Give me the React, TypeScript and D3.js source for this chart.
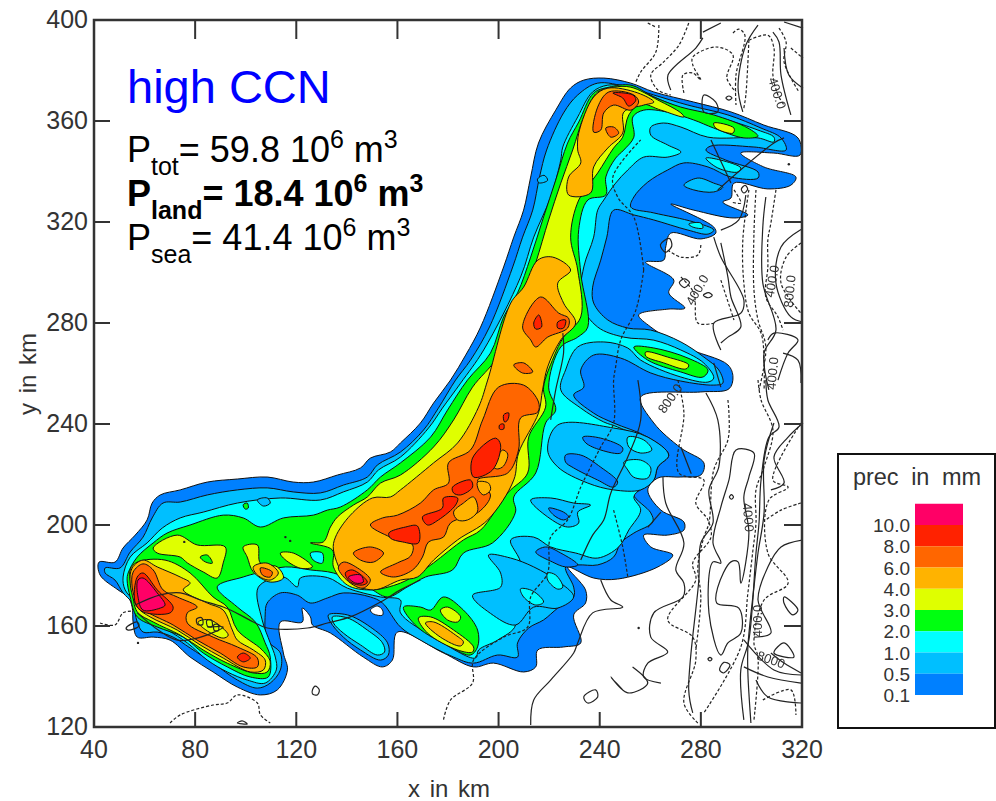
import * as d3 from 'd3';
import React from 'react';

const xTicks = [40, 80, 120, 160, 200, 240, 280, 320];
const yTicks = [120, 160, 200, 240, 280, 320, 360, 400];
const legendLabels = ['10.0', '8.0', '6.0', '4.0', '3.0', '2.0', '1.0', '0.5', '0.1'];
const legendColors = ['#ff0066', '#ff2200', '#ff6600', '#ffb300', '#dfff00', '#00ff10', '#00ffff', '#00bfff', '#0080ff'];
const [cMag, cRed, cDark, cOrange, cYellow, cGreen, cCyan, cLight, cBlue] = legendColors;

const band01 = [[42,185.3,48.3,185.3,51.5,190.9,56.3,196,61,202,63,208.7,66.2,211.9,74.1,213.9,84.8,217,96.7,218.2,108.5,219,118.8,217,126.7,217,136.3,219.8,145.4,222.6,149.3,226.5,157.2,228.9,161.2,232.5,169.1,240.4,174.3,248.3,181,257.4,187,267.3,192.9,278.4,202,302.2,206,314,209.9,324.7,212.7,337.8,215.8,351.3,222.6,364.3,228.5,373.1,233.7,376.2,241.6,377,252.3,375,261.4,371.5,277.2,367.5,291.9,363.6,304.9,358.4,318.4,353.3,319.2,346.5,308.9,347.3,295.8,347.3,304.9,341.8,317.6,337.8,315.6,334.6,306.5,333.1,293.1,335.4,291.9,329.5,288.7,327.9,298.6,322.8,293.1,321.6,277.2,324.7,268.1,327.1,285.1,318,285.9,315.6,280,313.3,268.1,315.6,266.1,310.1,265.3,304.9,258.2,304.1,269.3,297,267.3,291.9,273.7,285.9,267,285.5,255.4,283.2,260.2,278.4,273.3,270.5,290.7,263.4,292.7,258.6,291.1,253.9,280,252.7,256.2,250.7,261.4,240.4,272.1,230.5,281.2,224.6,280,219.8,272.1,219,263,218.6,259,213.9,264.2,205.9,273.3,201.2,273.3,198,266.9,196,257.4,196,260.2,191.3,268.9,188.1,263,183.4,247.1,178.6,237.6,179,227.3,183.4,234.4,174.3,234.4,169.1,229.7,164.4,232.5,153.3,225.7,151.7,215.5,150.5,214.7,143.8,209.9,141.8,198,145.3,190.1,143.8,178.2,149.3,160,157.6,158,146.5,154.1,143.8,146.5,147.7,133.5,157.2,126.4,160.4,125.6,163.6,122.4,167.1,122.4,161.6,113.7,161.6,114.9,149.3,116.5,142.6,112.5,134.7,105.8,132.7,96.7,135.8,87.1,141.8,78,147.7,70.1,154.4,63.4,155.6,57.1,155.6,55.5,161.2,55.1,167.5,53.5,171.5,49.5,174.3,42.4,180.2]];
const holes = [[149.3,166.3,152.1,167.9,154.1,166.3,154.1,164.3,150.5,164.8]];
const band05 = [[44.4,183,50.3,183,54.3,189.3,59.4,195.2,63,202.8,67.3,208.7,74.1,209.1,84.8,211.9,96.7,213.9,108.5,214.7,118.8,213.1,129.5,212.7,138.6,215.8,148.1,219,152.1,223.8,161.2,228.9,170.3,237.6,176.2,246.3,183,257.4,188.9,265.3,196.4,278.4,205.6,302.2,209.5,314,213.5,324.7,216.2,337.8,219,348.5,225.7,363.2,231.3,370.3,239.2,375,251.1,373.4,261.4,370.3,274.9,366.3,290.7,362.4,303.8,357.2,311.7,353.3,313.7,348.5,301,349.7,284,350.1,282,348.5,289.9,344.5,302.6,339.8,302.6,337.4,291.9,337.8,282.8,341.8,273.3,343.4,266.9,340.6,259,335.8,253.5,329.9,252.3,325.9,261.4,323.6,277.2,320,285.1,316.8,282.8,315.2,274.9,316.8,261.4,320.8,253.5,322.8,245.5,324.7,242.8,314,240.4,304.9,237.2,294.2,237.6,287.9,243.2,281.2,251.1,278,260.2,277.2,272.1,272.5,281.2,266.5,287.1,261.4,288.7,256.2,285.1,255.4,272.1,257,260.2,260.2,248.3,266.1,237.6,267.3,232.5,261.4,233.7,254.6,229.7,251.5,237.6,244.3,245.5,240.4,259,234.8,267.3,227.7,263,223,261.4,217.8,256.2,213.9,253.5,211.9,260.2,204.8,261,201.2,253.5,196.8,248.3,192.9,245.5,187.3,239.2,184.2,231.3,184.2,226.5,183.4,229.7,175.4,229.7,171.5,223.4,167.1,217.8,162.4,211.9,159.2,207.5,153.3,207.5,147.7,199.6,148.5,190.1,145.3,182.2,147.7,169.1,154.4,161.2,159.6,154.1,169.1,149.3,171.5,138.6,173.1,132.3,171.1,125.6,169.1,120.4,172.2,113.7,173.1,108.5,169.1,107.7,164.4,108.5,154.4,113.7,149.3,113.7,142.6,109.7,137.4,104.6,135.4,96.7,138.6,87.1,145.3,78,151.3,71.3,155.6,65,157.6,59.4,157.6,57.1,161.6,55.1,169.1,51.5,173.1,48.3,178.2,44.4,181]];
const band1 = [[51.5,179.4,54.3,187.3,61,192.9,67,198.8,74.1,202.8,83.2,205.1,96.7,208.7,113.7,210.7,129.5,209.9,138.6,213.1,148.1,217,152.5,221.8,161.2,226.9,172.3,238.4,177.8,246.3,185,256.2,194.1,269.3,208.7,298.2,213.9,314,220.6,329.9,224.6,344.5,225.4,349.7,231.3,361.6,237.2,371.5,243.2,374.2,252.3,373.4,264.2,368.3,274.9,364.3,287.9,361.2,302.6,356.4,308.9,353.6,308.9,351.7,302.6,353.3,282.8,353.6,272.1,357.6,265.3,359.2,260.2,357.6,260.2,354.4,266.9,350.5,272.1,347.7,266.9,345.7,257.4,345.7,251.1,340.6,246.3,335.4,241.6,328.7,239.2,324.7,237.6,314,233.7,302.2,232.5,287.9,239.2,278.4,249.5,274.4,261.4,273.2,272.1,269.3,281.2,264.1,285.1,258.2,282.8,256.6,272.1,258.6,256.2,265.3,251.1,270.1,241.6,272.5,231.3,270.5,226.5,261.4,224.6,253.5,232.5,246.3,241.6,240.8,247.1,238.8,260.2,231.7,260.2,221.8,256.2,214.7,253.5,211.1,256.2,205.9,251.5,198,247.5,191.3,239.2,186.9,230.5,188.9,220.6,191.3,213.9,195.2,204.8,194.1,208.7,184.2,200.8,174.3,206.7,160.4,199.6,154.4,192.1,150.5,190.9,147.3,174.3,155.6,161.2,165.2,161.2,170.3,153.3,171.5,140.2,175,132.3,179.2,121.6,179,120.4,175.5,114.9,179.4,105,175.4,106.5,162.4,109.7,153.3,111.7,147.7,112.1,142.6,107.7,137.4,100.6,138.6,92.7,141.8,84.8,146.5,76.9,153.3,68.9,158.4,59.4,162.6,56.3,169.3,52.3,174.3]];
// light blue fingers lying over the cyan
const fingers05 = [
  [223.4,239.6,245.5,238.4,259,234.8,267.3,227.7,263,223,261.4,217.8,256.2,213.9,245.5,213.9,235.3,216.6,223.4,223,219.4,229.7],
  [212.7,209.9,220.6,210.7,229.7,208.7,236.4,207.9,231.3,205.1,231.7,200.8,227.3,199.2,219.4,203.2],
  [196,188.1,204.8,186.9,213.9,183.4,224.6,177,229.7,171.5,223.4,167.1,213.9,167.5,206.7,160.4,196.8,165,189.7,172.1,200.8,175.4,200.8,181],
  [104.6,209.9,108.5,210.7,109.7,208.7,107,207.5],
];
const islands01 = [
  [233.3,234.8,240.4,234.4,249.1,230.5,248.3,228.5,240.4,229.7,234.5,232.5],
  [226.5,227.7,232.5,227.7,240.4,222.9,247.1,217,245.5,215,239.2,217.8,229.7,222.6,226.5,224.9],
  [219.8,206.7,225.7,205.1,227.7,203.2,225.7,202,221.8,203.9],
  [214.7,189.3,218.6,191.3,224.6,188.9,231.3,184.2,226.5,183.4,221.4,185.3],
];
const islands05 = [
  [273.3,334.6,278.8,337.4,285.1,335.4,288.7,333.8,285.1,331.9,277.2,332.7],
  [215.4,337,218,338.5,219.4,336.5,216,335.5],
  [132.7,164.4,140.2,164.4,149.3,159.6,156.1,153.3,156.4,148.5,153.3,146.5,145.4,150.5,138.6,155.6,133.5,161.6],
];
const islands1 = [
  [219.4,181,222.6,180.2,225.4,175.4,223.4,174.6,219.4,178.2],
  [208.7,174.7,213.5,173.9,217.8,169.5,214.7,168.3,209.9,171.5],
  [251.1,234.8,257.4,233.7,260.6,229.7,256.2,228.5,251.5,230.9],
  [249.5,224.9,256.2,225.7,260.2,222.6,259,218.6,253.5,218.9,251.1,221.8],
  [282,345.3,287.9,344.5,295.8,341.4,294.7,339.8,286.7,341.4],
  [275.2,319.2,280,319.6,280.8,317.6,276.8,318],
  [134.3,163.6,140.2,163.2,148.1,158.4,154.1,153.3,154.9,149.7,152.1,148.5,145.4,152.5,138.6,157.2,134.7,161.2],
];
const band2 = [
  [53.5,181,57.1,187.3,63.4,192.9,68.9,196.8,78,200,91.1,203.9,99,202.8,105.8,199.2,114.9,202.8,126.7,203.9,132.3,205.9,137.4,207.1,148.1,213.9,153.3,219,161.2,224.6,173.1,234.8,179.8,245.5,187.7,257.4,196.8,268.1,202,282.4,207.5,291.9,212.7,306.1,217.8,322,222.6,336.6,227.3,351.3,231.7,359.6,237.6,371.1,243.6,373.4,252.3,374.2,261.4,369.5,272.1,365.5,285.1,362.4,298.6,357.2,302.6,354,297,353.3,285.1,357.2,277.2,360.4,266.9,363.5,257.4,364.3,253.1,361.6,253.5,353.6,249.5,348.5,246.3,345.3,242.4,337.8,242.4,330.7,235.3,328.7,231.7,317,232.5,299.8,235.3,278.4,231.3,274.4,224.6,270.5,219.8,254.6,222.6,245.5,218.6,240.4,214.7,220.6,206,211.1,206.7,205.1,197.6,192.9,186.1,188.9,181.8,182.2,171.1,179.4,164,175.5,156.1,171.5,148.1,175.5,134.7,181,125.6,182.2,115.7,183.4,104.6,181,99,179.4,88.7,175.5,96.7,167.5,103.8,161.6,107.7,153.3,109.7,147.7,108.9,139.8,101.8,139.8,92.7,143.8,83.2,149.3,75.3,155.6,65,159.6,57.1,163.6,54.3,171.5,53.1,178.2],
  [162.4,167.5,169.1,167.5,173.1,166.3,178.2,171.5,186.1,166.3,191.7,158.4,191.7,151.7,188.9,148.5,181,151.7,167.9,159.6],
  [253.5,270.5,261.4,270.1,274.9,266.1,282.8,261.4,280.8,258.6,272.1,260.6,259,265.3],
  [99,208,100.6,208.7,101,206.7,99.8,206.3],
];
const islandsCyanInGreen = [[125.6,188.9,130.3,188.9,130.3,184.9,126.7,186.1]];
const band3 = [
  [54.3,182.2,57.1,185.3,68.1,186.1,78,181,87.1,171.5,92.7,167.5,96.7,158.4,106.5,150.5,109.7,145.8,108.5,141.8,103,141.4,92.7,145.3,83.2,150.5,74.1,156.4,63.4,161.6,57.1,165.6,55.1,174.3],
  [63.4,190.9,72.9,196,80.8,192.1,91.9,191.3,91.1,185,88.7,179,83.2,181.4,76.9,185,74.1,187.3,65,188.9],
  [99,191.3,104.6,192.1,105.8,184.9,112.5,183.4,114.9,179,109.7,177.4,103,181.4,100.6,187.3],
  [113.7,188.9,118.8,188.9,126.4,183.4,121.6,182.9,114.9,186.9],
  [125.6,192.9,130.7,193.3,133.5,199.2,136.3,203.2,142.6,207.9,148.1,211.1,153.3,216.6,161.2,219.8,174.3,230.9,182.2,241.6,189.7,254.6,199.6,266.5,209.5,287.9,214.7,303.8,219.8,320.8,224.6,335.4,229.3,348.5,233.7,361.6,239.2,371.5,245.5,373.4,252.3,373.4,263,368.3,272.1,363.2,273.3,361.6,264.2,364.3,256.2,366.7,251.5,362.4,249.1,353.6,245.5,349.3,239.2,339.4,231.7,328.7,228.5,314,231.3,301,232.5,282.4,225.7,274.4,221.8,266.5,217.8,254.6,218.6,246.7,211.9,234.8,211.5,220.6,203.6,212.7,192.9,198,186.1,194.1,174.3,185,169.1,181.4,161.2,177,149.3,174.3,140.2,176.2,134.7,183.4,134.3,190.1],
  [285.1,359.2,293.1,357.2,292.7,355.2,285.9,357.2],
  [258.2,268.5,266.9,266.5,275.2,263.4,274.1,261.8,265.3,264.2,258.2,266.9],
  [177,166.3,179.8,167.5,185,163.6,183.8,161.6,179.8,162.4],
  [168.3,163.2,173.1,163.6,182.2,158.4,190.1,151.7,189.7,149.7,183.8,150.5,171.9,157.2],
];
const islandsGreenInYellow = [[82,187.3,84.8,188.1,86.8,184.9,84,185.4]];
const band4 = [
  [55.1,183,59.4,186.1,65,183.4,74.1,179.4,78,177,75.3,174.3,84.8,169.1,91.1,166.3,94.7,158.4,96.7,154.4,103,150.5,107.7,146.5,107,142.6,101.8,141.8,91.1,147.3,82,152.5,72.9,158.4,62.2,163.6,57.1,167.5,54.3,177],
  [135.5,195.2,141.4,203.9,150.1,210.7,157.2,211.1,161.2,213.9,174.3,224.6,183.8,232.5,192.1,246.7,195.7,257.4,204.8,287.9,209.9,294.2,215.5,304.9,221.4,306.1,228.5,301,223.4,295.8,225.7,287.9,230.5,280,224.6,273.3,219.4,262.6,217.4,253.5,215.8,244.4,207.9,228.5,206,217.8,195.7,202,183.8,194.1,174.3,186.1,167.9,179.4,161.2,178.2,150.5,174.3,140.2,178.2,134.7,190.1],
  [231.3,348.5,231.7,355.2,237.6,369.5,243.2,373,255.1,371.1,261.4,367.5,257.4,366.3,249.5,363.5,249.1,355.2,243.2,349.3,237.6,341.8,236.4,331.5,227.7,330.7,227.7,337.8,232.5,343.4],
  [103,183.4,108.5,184.9,112.9,181,109.7,178.2,104.6,180.2],
  [171.1,161.2,174.3,161.6,183,156.4,186.1,153.7,185,152.1,177,155.6],
];
const islandsYellowInOrange = [[81.2,161.6,86,162.4,93.1,156.4,91.1,155.2,83.2,159.2]];
const band6 = [
  [55.5,181.4,59.4,184.6,63.4,182.2,67.3,174.3,72.9,171.5,80.8,167.5,76.9,165.2,76.9,161.2,87.1,155.6,96.7,151.7,104.6,147.3,104.6,143.8,99,143.8,89.9,149.3,80.8,154.4,71.3,160.4,61,165.6,57.1,169.1,55.1,175.4],
  [149.3,200,154.1,202.8,160,203.9,169.1,208.7,174.3,213.9,180.2,216.6,180.2,224.6,188.9,229.7,193.7,241.6,200,254.6,209.9,255.4,215.8,248.7,215.5,244.7,208.7,242.4,207.9,229.7,203.6,220.6,191.7,217.8,196.8,211.9,192.1,205.1,181,200.8,178.2,195.2,172.3,193.3,169.9,187.3,166,182.2,158.4,179.4,153.3,181.4,160,185,165.2,187.7,166,192.1,157.2,195.2],
  [237.6,355.6,239.2,365.5,243.6,371.5,253.5,370.3,255.4,367.5,252.3,364.3,245.5,366.3,241.6,363.2,240.4,356.4],
  [242.4,357.2,245.5,357.6,247.5,355.2,244.4,353.6],
  [209.5,278.4,216.6,290.3,223.8,283.9,227.7,281.9,227.3,278,219.4,274.4,214.7,270.5,212.7,273.3],
  [206,263.4,209.9,264.2,213.5,260.6,209.5,260.2],
  [142.6,188.9,149.3,191.3,154.5,188.9,150.5,185.3,145.4,186.1],
  [136.6,183,138.6,185.3,144.2,183,149.3,178.2,146.5,175,141.4,177],
  [105.8,183,110.5,181.4,109.7,179.4,106.6,180.2],
];
const islandsOrangeInDark = [
  [182.2,205.1,186.1,208.7,190.1,211.1,191.7,205.5,187.7,202,183.8,202],
  [191.7,217,196,216.6,196.8,213.9,194.1,211.9,192.1,213.9],
  [198,223,201.6,229.7,203.6,228.1,202,223.4,199.6,222.2],
];
const band8 = [
  [57.1,179.4,59.4,181,65,174.3,71.3,167.5,70.1,165.2,59.4,165.6,56.3,169.1],
  [96.7,147.7,99,149.3,101.8,147.3,99,145.8],
  [245.2,371.1,253.1,370.3,254.3,368.3,251.5,365.9,249.1,369.1],
  [213.9,280,215.9,283.2,217,278.4,214.7,277.6],
  [223.4,280.4,226.5,281.2,225.7,278,223.4,278],
  [139.4,181,142.2,182.2,148.1,177.4,146.2,176.2,141.4,177.4],
  [156.6,196.8,163.2,199.2,167.9,199.6,168.3,192.9,162,193.3,157.2,194.8],
  [169.9,203.2,177.8,206.7,178.2,210.7,183.8,210.7,183,207.9,176.2,202,171.9,200],
  [181.8,215,188.9,217.8,189.7,215,185,211.9,182.2,212.7],
  [189.7,226.5,198.8,234.4,200.8,231.7,197.6,221.8,190.1,219],
  [202,243.6,204,244.4,203.6,241.6,202.4,240.8],
  [200.4,239.6,202,240,202,238,200.4,238],
];
const band10 = [
  [57.4,178.2,59.4,179,65,173.1,68.1,168.3,66.2,167.1,59.4,166.3,57.4,171.5],
  [140.6,179.4,145.4,180.2,146.5,177.4,143.4,177],
];

// terrain isolines, open
const solidLines = [
  [56.3,168.3,66.2,172.3,74.1,173.1,82,170.3,91.1,167.5,97.8,164.4,103,161.6,108.5,159.2,124.4,159.2,132.3,161.2,141.4,163.6,153.3,169.5,161.2,174.3,169.1,178.2],
  [57.1,165.2,65.4,158.4,72.9,154.4,80.8,155.2,91.1,159.6,84.8,159.6],
  [240.4,178.2,244.4,170.3,249.1,167.5,237.2,165.2,231.3,153.3,229.7,149.3,220.6,138.6,213.9,130.7,212.7,120.8],
  [265,219,266.1,208.7,273.3,192.9,270.1,182.2,273.3,177,272.9,171.5,261.4,165.2,260.2,155.6,266.9,149.7,259,145.3,257.4,139.8,264.2,137.4],
  [253,143.8,259,137.4,251.1,133.5,244.4,139.8,249.1,134.7],
  [282,252.3,286.7,241.6,287.1,223,283.2,213.9,284.8,200.8,280,192.9,279.2,178.2,275.2,134.7,276.8,125.6],
  [305.7,257.4,306.5,249.5,310.9,238.8,306.9,234.8,303.8,217.8,303,200.8,301.8,188.9,299,154.5,295.8,142.6,297,122.8],
  [308.9,240.4,305,225.7,305,204.8,302.6,188.9,301,175.4,298.6,151.7,298.6,141.4,299.8,121.6],
  [320,194,311.7,191.3,306.5,183.4,302.6,170.3,307.7,157.2,301,155.6],
  [307.7,149.3,312.9,145.3,319.6,141.4],
  [297,154.5,308.9,142.6,319.6,140.6],
  [297,143.8,306.5,139.8,319.6,137.4],
  [301.8,138.6,306.5,131.9,319.6,129.5],
  [320.4,240.4,314.5,234.8,308.9,226.9,312.9,216.6,307.7,213.9],
  [305.7,329.9,304.5,318,304.5,295.8,309.7,277.2,305,268.1,306.9,253.5],
  [319.6,317,311.7,310.1,309.7,295.8,315.6,282.4,320.4,280.4],
  [287.9,316.8,295,320.8,297.8,330.7],
  [287.9,311.7,290.7,298.2,291.9,290.3,295.8,278.4,290.7,274.4,287.9,272.1],
  [306.5,273.3,308.9,276,318.4,273.3,314.5,268.1,310.5,257.4],
  [312.5,268.1,318.4,265.3,319.6,256.2],
  [285.1,314,287.9,306.1,297,289.1,295.8,283.9,285.1,279.9,287.9,269.3],
  [280.8,395.2,287.9,398.8],
  [280.8,392.9,278,388.9,267,378.2,268.1,372.3],
  [302.6,398,297.8,390.1,294.7,373.4,296.6,363.6],
  [308.5,395.2,310.9,391.3,311.7,378.2,315.6,362.4],
  [312.9,399.2,320.4,396.8],
  [312.9,388.9,314.8,378.2,320.4,373],
  [255.1,257.4,256.2,241.6,251.1,226.9,244.4,212.7,241.6,202,237.2,196,232.5,186.1],
  [225.4,276,225.7,268.1,222.6,253.5,220.6,241.6],
  [272.1,230.9,276.2,220.3],
  [264.2,205.1,259,199.1],
  [286.7,332.7,308.9,351.3,312.9,353.3],
  [284,352.5,291.9,335.4],
  [285.1,264.2,287.9,254.6],
];
const dashedLines = [
  [42.4,161.2,48.3,160.4,51.5,165.2,55.1,165.9],
  [70.1,121.6,74.1,124.8,87.1,128.7,92.7,129.5,96.7,132.7,104.6,129.5,105.8,124.8,109.7,121.6],
  [270.9,257.4,273.3,244.4,271.3,220.6,281.2,217.8,278,208.7,282.8,202,284,195.2,276.8,185,278,178.2,266.9,162.4,276.8,155.6,278,146.5,273.3,129.5,278.8,121.6],
  [290.7,249.5,291.1,244.4,290.7,233.7,285.1,221.8,283.2,200.8,281.2,195.2,278.8,183.4,280,171.5,278,150.5],
  [302.6,257.4,303.8,249.5,308.5,237.6,305,223,301.8,213.9,301.8,200.8,300.6,190.1,298.6,173.1,295.8,151.7,281.2,125.6],
  [319.6,240.4,308.5,217.8,314.5,215,306.9,209.9,306.5,188.9,314.5,177,305,170.3,301,153.3,302.6,147.7,301,122.8],
  [319.6,208.7,311.7,205.9,305.7,202],
  [304.5,130.7,315.6,134.7,317.6,124.8],
  [299,332.7,296.6,312.9,297,295.8,299,283.9,303.8,276,305,266.5,305,253.5],
  [301.8,332.7,301,315.6,301,293,302.6,281.2,305.7,270.5,303,253.5],
  [309.7,332.7,307.7,319.6,306.5,312.9,306.5,302.2,305.7,290.3,310.5,282.4,312.5,277.2],
  [319.6,311.7,313.7,306.1,311.7,295.8,319.6,283.9],
  [287.9,297,293.1,281.2],
  [293.1,332.7,295.8,327.5,291.9,327.9],
  [266.9,308.9,272.1,306.1,278.8,306.9,280,310.9],
  [272.1,298.2,277.2,291.9,278.8,280,285.1,279.9],
  [263.4,398,262.2,387.3,256.2,379.4,254.3,375.4],
  [259,398.8,262.2,397.2],
  [275.2,398.8,271.3,390,265.3,383.4,260.2,378.2,263,372.3,268.1,370.3],
  [292.7,394.8,295,396.4,297.4,394,293.9,378.2,293.9,366.3],
  [273.3,371.1,272.9,378.2,276.8,379,280,376.2,276.8,382.2,276.8,385.3,286,389.3,292.7,386.1,290.3,377,293.9,371.5],
  [299,392,306.5,394,308.9,388.9,308.5,378.2,310.5,370.3,312.9,366.3],
  [299,392,297.8,370.3,297,365.1],
  [310.9,396.8,313.7,391.3,312.9,383.4,318.8,371.5],
  [315.6,388.9,320.4,384.9],
  [257.4,301,254.3,285.1,248.3,273.3,246.3,262.6,245.5,257.4,245.5,240.4,240.4,230.9,236.4,223,232.5,215,227.3,202,220.6,195.2,219.4,181,212.7,171.5,211.5,159.6,202,155.6,190.1,146.5,189.7,137.4,181,130.7,178.2,122.8],
  [257.4,301,253.5,321.9,247.1,329.9,245.2,337.8,256.2,352.5],
  [245.5,205.9,249.1,191.3,251.1,179.4],
];
const closedLines = [
  [52.7,159.2,57.1,161.6,57.8,160,53.5,158.4],
  [126.4,134.7,127.5,136.2,129.1,134.7,128.3,132.7,126.4,133.1],
  [96.7,121.6,98.6,122.4,100.6,121.2],
  [233.7,131.9,238.4,134.7,239.2,131.9,235.2,129.5],
  [293.9,229.7,301,228.5,299,219,297,211.1,299,196.8,295.8,177,294.7,185.4,291.9,185.4,286.7,175.4,286.3,169.1,295,167.1,295.8,157.2,290.7,153.3,287.9,148.5,283.2,165.2,284.8,185.4,287.9,184.9,284.8,192.9,287.9,207.1,291.1,217.8],
  [291.3,211.1,292.1,212,292.9,211.1,292.1,210.2],
  [282.8,146.9,283.6,147.6,284.4,146.9,283.6,146.2],
  [287.4,142.6,289.1,145.6,291.5,144.6,289.1,141.4],
  [312.9,153.3,316.8,147.7,308.9,149.3],
  [312.9,171.5,318.4,166.3,316.4,164.4,312.9,169],
  [281.2,370.3,285.9,367.5,286.7,363.6,281.2,363.6],
  [289.9,369.1,291.1,369.9,292.3,369.1,291.1,368.3],
  [271.5,296,273.5,297.5,275.5,296,273.5,294],
  [281,291,283,292,284.5,291,283,290],
  [296,333,297.5,334.5,298.5,333,297,331.5],
  [264,311,267.5,313.5,268.5,310.5,266,308],
  [80.6,162.8,82.6,163.3,83,160.6,81,160.6],
  [84.6,162.2,86.4,162.4,86.7,159.8,85,159.8],
  [87.4,160.4,89,160.6,89.2,158.2,87.6,158.2],
];
const dots = [[75.7,193.3],[115.7,195.2],[117.6,193.7],[57.4,153.3],[314.8,342.9],[255.4,159.2]];
const contourLabels = [
  { t: '400.0', x: 310, y: 371, r: 72 },
  { t: '400.0', x: 308.3, y: 296.5, r: -80 },
  { t: '800.0', x: 315.3, y: 292.5, r: -85 },
  { t: '400.0', x: 308.5, y: 260, r: -85 },
  { t: '800.0', x: 268, y: 250, r: -55 },
  { t: '400.0', x: 278.7, y: 293, r: -60 },
  { t: '4000', x: 298.6, y: 203, r: 85 },
  { t: '400.0', x: 302.6, y: 162, r: -90 },
  { t: '8000', x: 307.7, y: 146.5, r: 20 },
];

// P lines: kind n normal, s subscript, u superscript
const statLines = [
  { y: 162, weight: 400, parts: [['n', 'P'], ['s', 'tot'], ['n', '= 59.8 10'], ['u', '6'], ['n', ' m'], ['u', '3']] },
  { y: 206, weight: 700, parts: [['n', 'P'], ['s', 'land'], ['n', '= 18.4 10'], ['u', '6'], ['n', ' m'], ['u', '3']] },
  { y: 250, weight: 400, parts: [['n', 'P'], ['s', 'sea'], ['n', '= 41.4 10'], ['u', '6'], ['n', ' m'], ['u', '3']] },
];

const x = d3.scaleLinear().domain([40, 320]).range([94, 802]);
const y = d3.scaleLinear().domain([120, 400]).range([727, 20]);
const legendY = d3.scalePoint<string>().domain(legendLabels).range([525, 695]);

const pts = (flat: number[]) => d3.range(0, flat.length, 2).map(i => [flat[i], flat[i + 1]] as [number, number]);
const closedPath = d3.line<[number, number]>().x(d => x(d[0])).y(d => y(d[1])).curve(d3.curveCatmullRomClosed.alpha(0.5));
const openPath = d3.line<[number, number]>().x(d => x(d[0])).y(d => y(d[1])).curve(d3.curveCatmullRom.alpha(0.5));

const layers: [number[][], string][] = [
  [band01, cBlue], [holes, '#ffffff'], [band05, cLight], [band1, cCyan], [fingers05, cLight],
  [islands01, cBlue], [islands05, cLight], [islands1, cCyan], [band2, cGreen], [islandsCyanInGreen, cCyan],
  [band3, cYellow], [islandsGreenInYellow, cGreen], [band4, cOrange], [islandsYellowInOrange, cYellow],
  [band6, cDark], [islandsOrangeInDark, cOrange], [band8, cRed], [band10, cMag],
];

const sans = '"Liberation Sans", Arial, sans-serif';
const ink = '#333';

function StatLine({ line }: { line: typeof statLines[0] }) {
  let shift = 0;
  return (
    <text x={127} y={line.y} fontFamily={sans} fontSize={36} fontWeight={line.weight} fill="#000" xmlSpace="preserve">
      {line.parts.map(([kind, s], i) => {
        const target = kind === 's' ? 13 : kind === 'u' ? -14 : 0;
        const dy = target - shift;
        shift = target;
        return <tspan key={i} dy={dy} fontSize={kind === 'n' ? 36 : 25}>{s}</tspan>;
      })}
    </text>
  );
}

export default function App() {
  return (
    <svg width={996} height={801} style={{ position: 'absolute', left: 0, top: 0, background: '#fff' }}>
      <defs>
        <filter id="soft" x="-5%" y="-5%" width="110%" height="110%">
          <feGaussianBlur stdDeviation="0.45" />
        </filter>
      </defs>
      <g filter="url(#soft)">
        {layers.map(([rings, color], i) => (
          <g key={i} fill={color} stroke="#111" strokeWidth={1}>
            {rings.map((r, j) => <path key={j} d={closedPath(pts(r)) as string} />)}
          </g>
        ))}
        <g fill="none" stroke="#222" strokeWidth={1.2}>
          {solidLines.map((l, i) => <path key={i} d={openPath(pts(l)) as string} />)}
          {closedLines.map((l, i) => <path key={i} d={closedPath(pts(l)) as string} />)}
          {dashedLines.map((l, i) => <path key={i} d={openPath(pts(l)) as string} strokeDasharray="3 2" />)}
        </g>
        {dots.map((d, i) => <circle key={i} cx={x(d[0])} cy={y(d[1])} r={1.2} fill="#222" />)}
        {contourLabels.map((c, i) => (
          <text key={i} transform={`translate(${x(c.x)},${y(c.y)}) rotate(${c.r})`} textAnchor="middle" fontFamily={sans} fontSize={13} fill="#333" dy={4}>{c.t}</text>
        ))}
      </g>

      <rect x={x(40)} y={y(400)} width={x(320) - x(40)} height={y(120) - y(400)} fill="none" stroke={ink} strokeWidth={2.5} />
      {xTicks.map(t => (
        <g key={t} stroke={ink} strokeWidth={2}>
          <line x1={x(t)} x2={x(t)} y1={y(400)} y2={y(400) + 19} />
          <line x1={x(t)} x2={x(t)} y1={y(120)} y2={y(120) - 15} />
        </g>
      ))}
      {yTicks.map(t => (
        <g key={t} stroke={ink} strokeWidth={2}>
          <line y1={y(t)} y2={y(t)} x1={x(40)} x2={x(40) + 16} />
          <line y1={y(t)} y2={y(t)} x1={x(320)} x2={x(320) - 18} />
        </g>
      ))}
      <g fontFamily={sans} fontSize={25} fill="#333">
        {xTicks.map(t => <text key={t} x={x(t)} y={758} textAnchor="middle">{t}</text>)}
        {yTicks.map(t => <text key={t} x={88} y={y(t) + 8} textAnchor="end">{t}</text>)}
      </g>
      <text x={449} y={797} textAnchor="middle" fontFamily={sans} fontSize={24} fill="#333" wordSpacing={3}>x in km</text>
      <text transform="translate(36,374) rotate(-90)" textAnchor="middle" fontFamily={sans} fontSize={24} fill="#333" wordSpacing={3}>y in km</text>

      <text x={127} y={103} fontFamily={sans} fontSize={47} fill="#0000ff">high CCN</text>
      {statLines.map((l, i) => <StatLine key={i} line={l} />)}

      <rect x={838} y={454} width={157} height={274} fill="#fff" stroke="#111" strokeWidth={2} />
      <text x={917} y={485} textAnchor="middle" fontFamily={sans} fontSize={23.5} fill="#333" wordSpacing={6}>prec in mm</text>
      {legendColors.map((c, i) => {
        const step = legendY.step();
        const y1 = legendY(legendLabels[i]) as number;
        return <rect key={c} x={915} y={y1 - step} width={48} height={step} fill={c} />;
      })}
      <g fontFamily={sans} fontSize={19} fill="#333">
        {legendLabels.map(l => <text key={l} x={910} y={(legendY(l) as number) + 7} textAnchor="end">{l}</text>)}
      </g>
    </svg>
  );
}
